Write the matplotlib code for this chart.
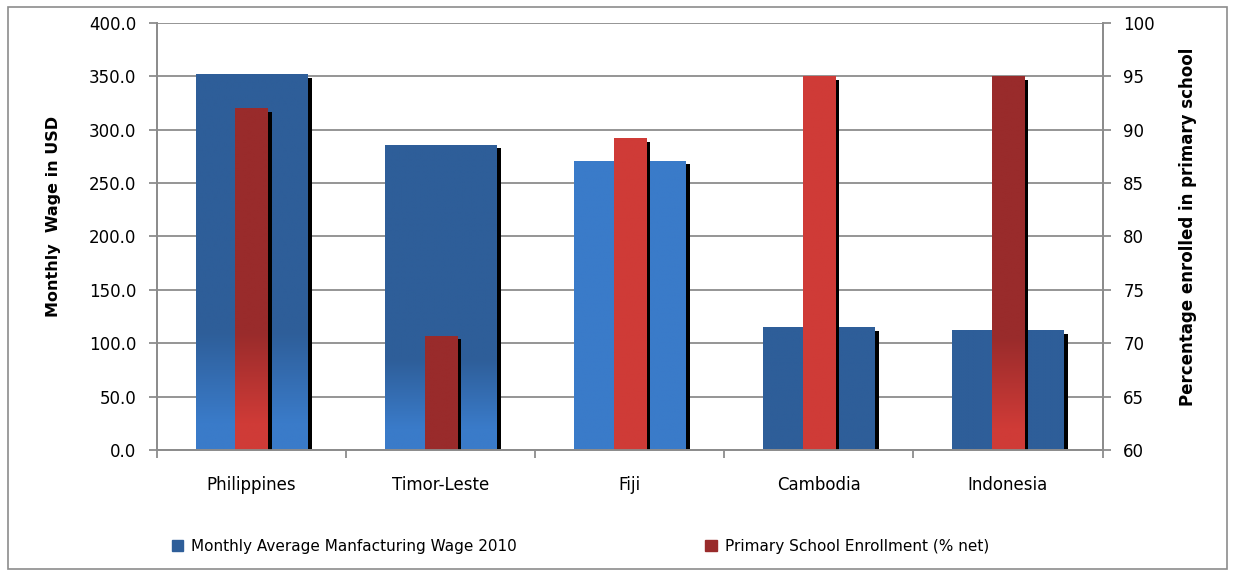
import matplotlib
matplotlib.use('Agg')
import matplotlib.pyplot as plt
import numpy as np
from matplotlib.patches import Patch, Rectangle
from matplotlib import patheffects as pe
from matplotlib.colors import to_rgb

# data
countries = ['Philippines', 'Timor-Leste', 'Fiji', 'Cambodia', 'Indonesia']
wage = [352, 286, 271, 115, 112]
enrollment = [92.0, 70.7, 89.2, 95.0, 95.0]

# gradient style per bar: (fade low, fade high) in axis units, or a flat colour
DARK_BLUE, LIGHT_BLUE = '#2E5E99', '#3A7BC9'
DARK_RED, LIGHT_RED = '#992B2B', '#CF3B37'
blue_fade = [(25, 110), (20, 85), 'light', 'dark', 'dark']
red_fade = [(62.5, 71), 'dark', 'light', 'light', (62, 70.5)]

plt.rcParams['font.family'] = ['DejaVu Sans']
GRID = '#8C8C8C'

fig = plt.figure(figsize=(12.36, 5.75), dpi=100)
ax = fig.add_axes([0.127, 0.2174, 0.765, 0.7426])
ax2 = ax.twinx()


def paint(axx, rect, dark, light, fade, base):
    x0, w, h = rect.get_x(), rect.get_width(), rect.get_height()
    top = base + h
    ys = np.linspace(top, base, 200)
    d, l = np.array(to_rgb(dark)), np.array(to_rgb(light))
    if fade == 'dark':
        t = np.ones_like(ys)
    elif fade == 'light':
        t = np.zeros_like(ys)
    else:
        t = np.clip((ys - fade[0]) / (fade[1] - fade[0]), 0, 1)
    img = (l[None, :] * (1 - t[:, None]) + d[None, :] * t[:, None])[:, None, :]
    im = axx.imshow(img, extent=(x0, x0 + w, base, top), aspect='auto',
                    interpolation='bilinear', zorder=rect.get_zorder() + 0.1)
    im.set_clip_path(rect)


x = np.arange(len(countries))
shadow = [pe.SimplePatchShadow(offset=(3.2, -2.4), shadow_rgbFace='black', alpha=1.0),
          pe.Normal()]

bars1 = ax.bar(x, wage, width=0.59, color=DARK_BLUE, zorder=2)
for b, f in zip(bars1, blue_fade):
    b.set_path_effects(shadow)
    paint(ax, b, DARK_BLUE, LIGHT_BLUE, f, 0)

bars2 = ax2.bar(x, [e - 60 for e in enrollment], bottom=60, width=0.17,
                color=DARK_RED, zorder=2)
for b, f in zip(bars2, red_fade):
    b.set_path_effects(shadow)
    paint(ax2, b, DARK_RED, LIGHT_RED, f, 60)

ax.set_xlim(-0.5, len(countries) - 0.5)
ax.set_ylim(0, 400)
ax2.set_ylim(60, 100)
ax.set_yticks(np.arange(0, 401, 50))
ax.set_yticklabels(['%.1f' % v for v in np.arange(0, 401, 50)])
ax2.set_yticks(np.arange(60, 101, 5))

ax.set_xticks(np.arange(-0.5, len(countries), 1.0))
ax.set_xticklabels([])
ax.set_xticks(x, minor=True)
ax.set_xticklabels(countries, minor=True)
ax.tick_params(axis='x', which='minor', length=0, pad=19, labelsize=12)
ax.tick_params(axis='x', which='major', length=6, color=GRID, width=1.3)
ax.tick_params(axis='y', length=6, color=GRID, width=1.3, pad=9, labelsize=12)
ax2.tick_params(axis='y', length=6, color=GRID, width=1.3, pad=9, labelsize=12)

ax.grid(axis='y', color=GRID, linewidth=1.3, zorder=0)
ax.set_axisbelow(True)
for a in (ax, ax2):
    a.spines['top'].set_visible(False)
    for s in ('left', 'right', 'bottom'):
        a.spines[s].set_color(GRID)
        a.spines[s].set_linewidth(1.3)

ax.set_ylabel('Monthly  Wage in USD', fontsize=11.5, fontweight='bold')
ax2.set_ylabel('Percentage enrolled in primary school', fontsize=12,
               fontweight='bold')
ax.yaxis.set_label_coords(-0.102, 0.548)
ax2.yaxis.set_label_coords(1.081, 0.522)

handles = [Patch(color=DARK_BLUE), Patch(color=DARK_RED)]
fig.legend(handles, ['Monthly Average Manfacturing Wage 2010',
                     'Primary School Enrollment (% net)'],
           loc='center left', bbox_to_anchor=(0.128, 0.05), ncol=2, frameon=False,
           fontsize=11, handlelength=0.75, handleheight=0.75, handletextpad=0.5,
           columnspacing=12.35)

fig.patches.append(Rectangle((8 / 1236, 6 / 575), 1219 / 1236, 562 / 575,
                             transform=fig.transFigure, fill=False,
                             edgecolor=GRID, linewidth=1.2))

plt.savefig('out.png', dpi=100)
